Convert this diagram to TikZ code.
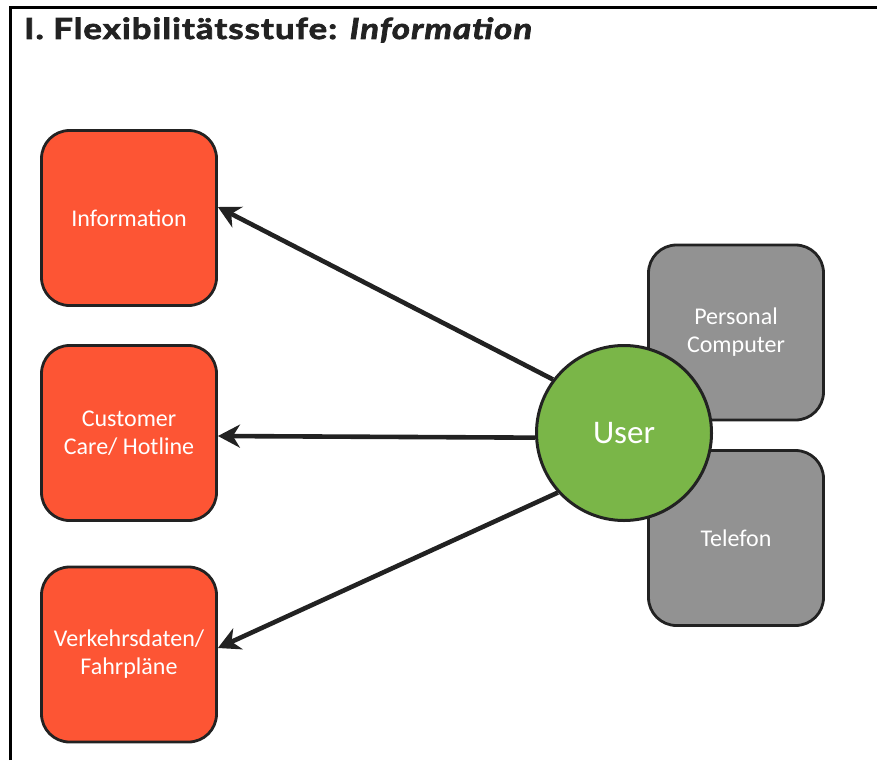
\documentclass[tikz,border=0pt]{standalone}
\usepackage{fontspec}
\setmainfont{Lato}
\newfontfamily\labelfont{Carlito}
\newfontfamily\titlefont{Lato}[BoldFeatures={FakeStretch=1.2,FakeBold=2.5,LetterSpace=3.5},BoldItalicFeatures={FakeStretch=1.2,FakeBold=2.5,LetterSpace=3.5}]
\usetikzlibrary{arrows.meta}
\definecolor{redbox}{HTML}{FD5534}
\definecolor{greybox}{HTML}{929292}
\definecolor{greenball}{HTML}{7AB648}
\definecolor{ink}{HTML}{222222}
\tikzset{
  box/.style={draw=ink,line width=2.8pt,rounded corners=28pt,minimum width=175pt,minimum height=175pt,inner sep=0pt,align=center,text=white,font=\labelfont\fontsize{24}{28}\selectfont},
  redstyle/.style={box,fill=redbox},
  greystyle/.style={box,fill=greybox},
  ball/.style={circle,draw=ink,line width=3pt,fill=greenball,minimum size=175pt,inner sep=0pt,text=white,font=\labelfont\fontsize{33}{38}\selectfont},
  link/.style={draw=ink,line width=4.6pt,-{Stealth[length=22pt,width=23pt,inset=7pt]}},
  frameline/.style={draw=black,line width=3pt},
  titletext/.style={anchor=base west,inner sep=0pt,text=ink,font=\titlefont\fontsize{29}{34}\selectfont\bfseries}
}
\begin{document}
\begin{tikzpicture}[x=1pt,y=-1pt]
\useasboundingbox (0,0) rectangle (877,760);
\draw[frameline] (10,760) -- (10,8) -- (877,8);
\node[titletext] (title) at (24,39) {I. Flexibilitätsstufe: \itshape Information};
\node[redstyle] (info) at (129,218) {Information};
\node[redstyle] (care) at (129,433) {Customer\\Care/ Hotline};
\node[redstyle] (verk) at (129,654.5) {Verkehrsdaten/\\Fahrpläne};
\node[greystyle] (pc) at (736,332.5) {Personal\\Computer};
\node[greystyle] (tel) at (736,538) {Telefon};
\node[ball] (user) at (624,433) {User};
\coordinate (infoport) at ([yshift=11pt]info.east);
\coordinate (careport) at ([yshift=-3pt]care.east);
\coordinate (verkport) at ([yshift=6.5pt]verk.east);
\draw[link] (user.143) -- (infoport);
\draw[link] (user.183) -- (careport);
\draw[link] (user.222) -- (verkport);
\end{tikzpicture}
\end{document}
